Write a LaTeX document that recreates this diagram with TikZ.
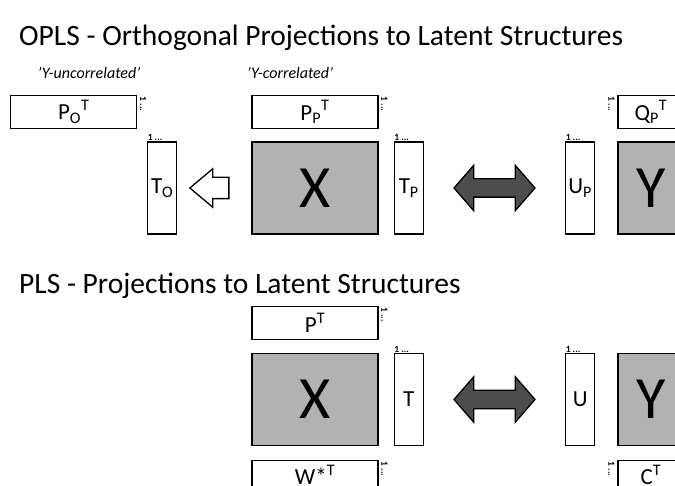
\documentclass[tikz,border=0pt]{standalone}
\usepackage{fontspec}
\setmainfont{Carlito}
\usepackage{tikz}
\usetikzlibrary{positioning,calc,shapes.arrows}
\definecolor{datagray}{HTML}{B2B2B2}
\definecolor{arrowgray}{HTML}{4D4D4D}

\begin{document}
\begin{tikzpicture}[
  x=1pt,y=-1pt,
  mat/.style={draw,line width=1.3pt,fill=white,inner sep=0pt,font=\fontsize{23}{23}\selectfont},
  hmat/.style={mat,minimum width=126pt,minimum height=33pt},
  smat/.style={mat,minimum width=66pt,minimum height=33pt},
  lowmat/.style={minimum height=28pt},
  vmat/.style={mat,minimum width=29pt,minimum height=92pt},
  datamat/.style={mat,fill=datagray,minimum width=126pt,minimum height=92pt,font=\fontsize{60}{60}\selectfont},
  ydatamat/.style={datamat,minimum width=66pt},
  idx/.style={inner sep=0.5pt,font=\bfseries\fontsize{9.5}{9.5}\selectfont},
  heading/.style={anchor=west,inner sep=0pt,font=\fontsize{29.5}{32}\selectfont},
  tag/.style={inner sep=0pt,font=\itshape\fontsize{16}{18}\selectfont},
  openarr/.style={single arrow,draw,line width=1.3pt,fill=white,shape border rotate=180,
    inner xsep=0pt,inner ysep=10pt,single arrow head extend=8.5pt,single arrow tip angle=80,minimum height=39pt},
  duoarr/.style={double arrow,draw,line width=1.3pt,fill=arrowgray,
    inner xsep=0pt,inner ysep=8.5pt,double arrow head extend=13.5pt,double arrow tip angle=98,minimum height=81pt}
]
\useasboundingbox (0,0) rectangle (675,486);
\clip (0,0) rectangle (675,486);

\node[heading] (optitle) at (19,38) {OPLS - Orthogonal Projections to Latent Structures};
\node[tag] (uncor) at (89,73) {'Y-uncorrelated'};
\node[tag] (cor) at (290,73) {'Y-correlated'};

\node[datamat] (X) at (315,188) {X};
\node[hmat,above=12pt of X] (PP) {P\textsubscript{P}\textsuperscript{T}};
\node[vmat,right=15pt of X] (TP) {T\textsubscript{P}};
\node[hmat,left=114pt of PP] (PO) {P\textsubscript{O}\textsuperscript{T}};
\node[vmat,left=74pt of X] (TO) {T\textsubscript{O}};
\node[ydatamat] (Y) at (651,188) {Y};
\node[vmat,left=22pt of Y] (UP) {U\textsubscript{P}};
\node[smat,above=12pt of Y] (QP) {Q\textsubscript{P}\textsuperscript{T}};
\node[openarr,anchor=tip] (orth) at ($(TO.east)+(11.5,0)$) {};
\node[duoarr] (link) at ($(TP.east)!0.5!(UP.west)$) {};

\node[idx,anchor=south west] at (TO.north west) {1 ...};
\node[idx,anchor=south west] at (TP.north west) {1 ...};
\node[idx,anchor=south west] at (UP.north west) {1 ...};
\node[idx,rotate=-90,anchor=south west] at ($(PO.north east)+(2,1)$) {1 ...};
\node[idx,rotate=-90,anchor=south west] at ($(PP.north east)+(2,1)$) {1 ...};
\node[idx,rotate=-90,anchor=north west] at ($(QP.north west)+(-2,1)$) {1 ...};

\node[heading] (pltitle) at (19,286) {PLS - Projections to Latent Structures};

\node[datamat] (Xb) at (315,399.5) {X};
\node[hmat,above=13pt of Xb] (P) {P\textsuperscript{T}};
\node[hmat,lowmat,below=14pt of Xb] (W) {W*\textsuperscript{T}};
\node[vmat,right=15pt of Xb] (T) {T};
\node[ydatamat] (Yb) at (651,399.5) {Y};
\node[vmat,left=22pt of Yb] (U) {U};
\node[smat,lowmat,below=14pt of Yb] (C) {C\textsuperscript{T}};
\node[duoarr] (linkb) at ($(T.east)!0.5!(U.west)$) {};

\node[idx,anchor=south west] at (T.north west) {1 ...};
\node[idx,anchor=south west] at (U.north west) {1 ...};
\node[idx,rotate=-90,anchor=south west] at ($(P.north east)+(2,1)$) {1 ...};
\node[idx,rotate=-90,anchor=south west] at ($(W.north east)+(2,1)$) {1 ...};
\node[idx,rotate=-90,anchor=north west] at ($(C.north west)+(-2,1)$) {1 ...};
\end{tikzpicture}
\end{document}
